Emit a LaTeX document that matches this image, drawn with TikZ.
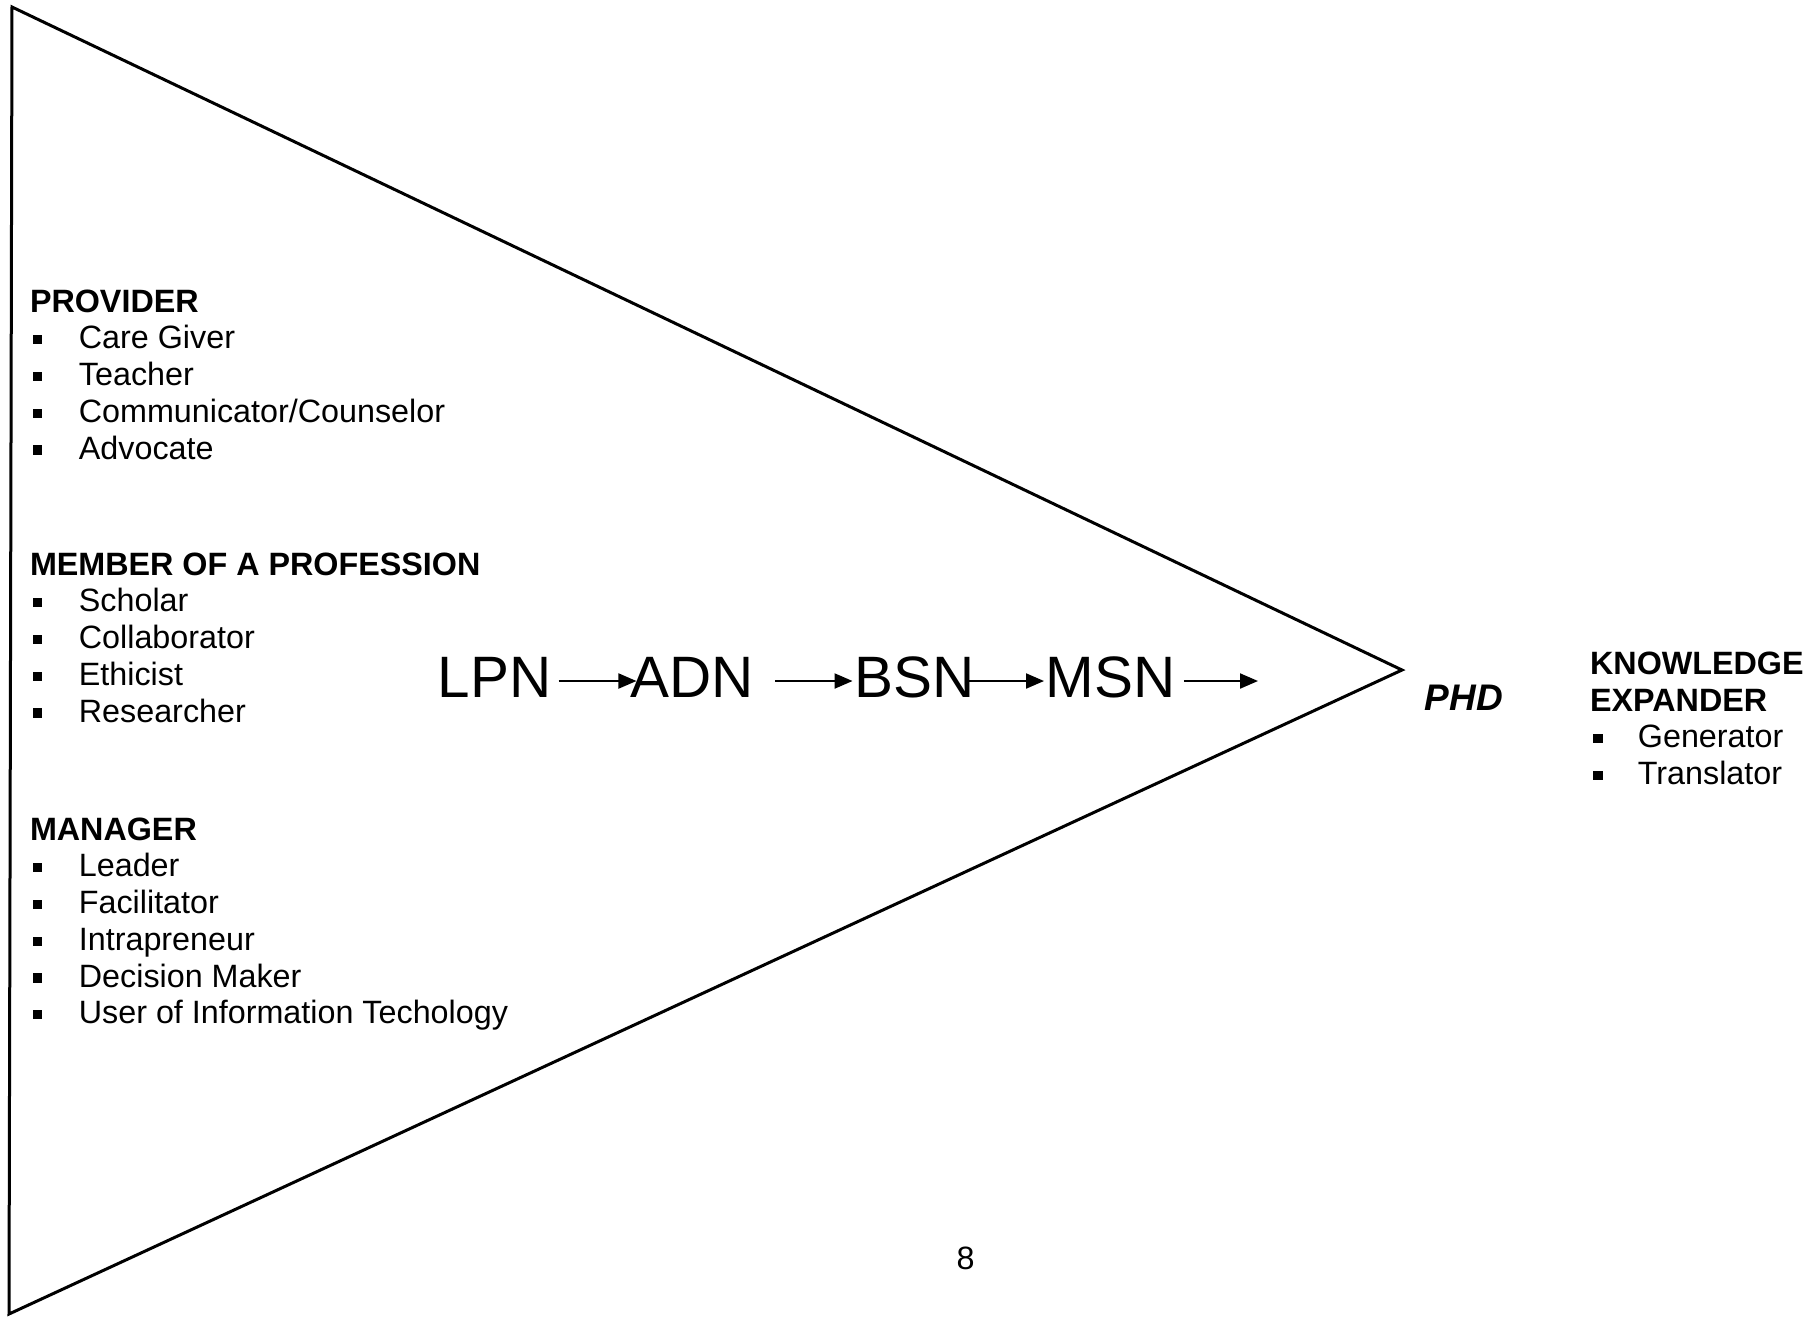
\documentclass[tikz,border=0pt]{standalone}
\usepackage{fontspec}
\setmainfont{Liberation Sans}
\usetikzlibrary{arrows.meta,calc}
\begin{document}
\begin{tikzpicture}[x=0.5pt,y=-0.5pt,
  txt/.style={inner sep=0pt, anchor=base west, font=\fontsize{16.15}{18}\selectfont},
  head/.style={txt, font=\fontsize{16.15}{18}\selectfont\bfseries},
  bul/.style={fill=black, draw=none, inner sep=0pt, minimum size=4.6pt},
  big/.style={inner sep=0pt, anchor=base, font=\fontsize{29.2}{32}\selectfont},
  arr/.style={line width=1pt, -{Triangle[length=9pt,width=7.5pt]}}]
\useasboundingbox (0,0) rectangle (1813,1324);
% triangle
\draw[line width=1.5pt, line join=miter] (12,7) -- (1402,670) -- (9,1314) -- cycle;
% PROVIDER
\node[head] (prov) at (29.6,312) {PROVIDER};
\foreach \t [count=\i] in {Care Giver,Teacher,Communicator/Counselor,Advocate}{
  \node[txt] (prov\i) at (78.5,{312+36.75*\i}) {\t};
  \node[bul] (provb\i) at (37.2,{312+36.75*\i-9}) {};
}
% MEMBER
\node[head] (memb) at (29.6,575) {MEMBER OF A PROFESSION};
\foreach \t [count=\i] in {Scholar,Collaborator,Ethicist,Researcher}{
  \node[txt] (memb\i) at (78.5,{575+36.75*\i}) {\t};
  \node[bul] (membb\i) at (37.2,{575+36.75*\i-9}) {};
}
% MANAGER
\node[head] (mgr) at (29.6,840) {MANAGER};
\foreach \t [count=\i] in {Leader,Facilitator,Intrapreneur,Decision Maker,User of Information Techology}{
  \node[txt] (mgr\i) at (78.5,{840+36.75*\i}) {\t};
  \node[bul] (mgrb\i) at (37.2,{840+36.75*\i-9}) {};
}
% KNOWLEDGE EXPANDER
\node[head] (ke1) at (1589.7,674) {KNOWLEDGE};
\node[head] (ke2) at (1589.7,711) {EXPANDER};
\foreach \t [count=\i] in {Generator,Translator}{
  \node[txt] (ke\i t) at (1637.5,{711+36.75*\i}) {\t};
  \node[bul] (keb\i) at (1598,{711+36.75*\i-9}) {};
}
% PHD
\node[inner sep=0pt, anchor=base, font=\fontsize{18.5}{20}\selectfont\bfseries\itshape] (phd) at (1464,710) {PHD};
% chain
\node[big] (lpn) at (494.5,697) {LPN};
\node[big] (adn) at (692,697) {ADN};
\node[big] (bsn) at (915,697) {BSN};
\node[big] (msn) at (1110.5,697) {MSN};
\coordinate (end) at (1258,681);
\draw[arr] ($(lpn.base east)+(7,-16)$) -- ($(adn.base west)+(6.5,-16)$);
\draw[arr] ($(adn.base east)+(21,-16)$) -- ($(bsn.base west)+(-2,-16)$);
\draw[arr] ($(bsn.base east)+(-6,-16)$) -- ($(msn.base west)+(-1.2,-16)$);
\draw[arr] ($(msn.base east)+(8,-16)$) -- (end);
% page number
\node[inner sep=0pt, anchor=base, font=\fontsize{16.15}{18}\selectfont] (pg) at (965.5,1269) {8};
\end{tikzpicture}
\end{document}
